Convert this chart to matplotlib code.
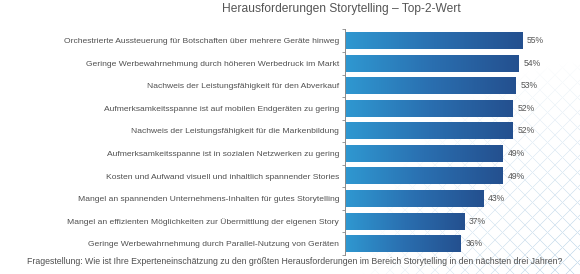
import numpy as np
import matplotlib
matplotlib.use("Agg")
import matplotlib.pyplot as plt
from matplotlib.colors import LinearSegmentedColormap

plt.rcParams['font.family'] = ['Liberation Sans', 'DejaVu Sans']

# Daten
labels = [
    "Orchestrierte Aussteuerung für Botschaften über mehrere Geräte hinweg",
    "Geringe Werbewahrnehmung durch höheren Werbedruck im Markt",
    "Nachweis der Leistungsfähigkeit für den Abverkauf",
    "Aufmerksamkeitsspanne ist auf mobilen Endgeräten zu gering",
    "Nachweis der Leistungsfähigkeit für die Markenbildung",
    "Aufmerksamkeitsspanne ist in sozialen Netzwerken zu gering",
    "Kosten und Aufwand visuell und inhaltlich spannender Stories",
    "Mangel an spannenden Unternehmens-Inhalten für gutes Storytelling",
    "Mangel an effizienten Möglichkeiten zur Übermittlung der eigenen Story",
    "Geringe Werbewahrnehmung durch Parallel-Nutzung von Geräten",
]
values = [55, 54, 53, 52, 52, 49, 49, 43, 37, 36]

title = "Herausforderungen Storytelling – Top-2-Wert"
footer = ("Fragestellung: Wie ist Ihre Experteneinschätzung zu den größten "
          "Herausforderungen im Bereich Storytelling in den nächsten drei Jahren?")

text_col = "#505050"
axis_col = "#8a8a8a"
grad = LinearSegmentedColormap.from_list("bar", ["#2f98d1", "#2a6fb0", "#24508f"])

W, H = 580, 274
fig = plt.figure(figsize=(W / 100, H / 100), dpi=100)

# Hintergrund: helles Rautenmuster unten rechts
bg = fig.add_axes([0, 0, 1, 1], zorder=0)
px, py = np.meshgrid(np.arange(W) + 0.5, np.arange(H) + 0.5)
period = 15.0
def line_int(u):
    d = np.abs(u - period * np.round(u / period))
    return np.clip(1.1 - d, 0, 1)
lat = np.maximum(line_int(px + py), line_int(px - py))
dist = np.hypot(px - 600, py - 300)
mask = np.clip(1 - dist / 240, 0, 1) ** 0.7
alpha = lat * mask * 0.9
img = np.zeros((H, W, 4))
img[..., :3] = np.array([0.76, 0.85, 0.92])
img[..., 3] = alpha
bg.imshow(img, extent=[0, W, H, 0], interpolation="nearest")
bg.set_xlim(0, W)
bg.set_ylim(H, 0)
bg.axis("off")

ax = fig.add_axes([345 / W, 1 - 255 / H, 235 / W, (255 - 29.4) / H], zorder=1)

h = 0.74
y = np.arange(len(values))
g = np.linspace(0, 1, 256).reshape(1, -1)
for yi, v in zip(y, values):
    # Verlauf hell -> dunkel pro Balken
    ax.imshow(g, cmap=grad, aspect="auto", extent=[0, v, yi + h / 2, yi - h / 2],
              interpolation="bilinear", zorder=2)
    ax.text(v + 1.5, yi, f"{v}%", va="center", ha="left", fontsize=6.2, color="#555555")

ax.set_xlim(0, 73)
ax.set_ylim(len(values) - 0.5, -0.5)

ax.set_yticks(y)
ax.set_yticklabels(labels, fontsize=6.1, color=text_col)
ax.tick_params(axis="y", which="major", length=0, pad=4.3)
ax.set_yticks(np.arange(len(values) + 1) - 0.5, minor=True)
ax.tick_params(axis="y", which="minor", length=2.2, width=0.6, color=axis_col, direction="out")
ax.set_xticks([])

for s in ["top", "right", "bottom"]:
    ax.spines[s].set_visible(False)
ax.spines["left"].set_color(axis_col)
ax.spines["left"].set_linewidth(0.7)
ax.patch.set_alpha(0)

fig.text(341 / W, 1 - 9 / H, title, ha="center", va="center", fontsize=8.65, color="#555555")
fig.text(295 / W, 1 - 262 / H, footer, ha="center", va="center", fontsize=6.3, color=text_col)

fig.savefig("out.png", dpi=100)
